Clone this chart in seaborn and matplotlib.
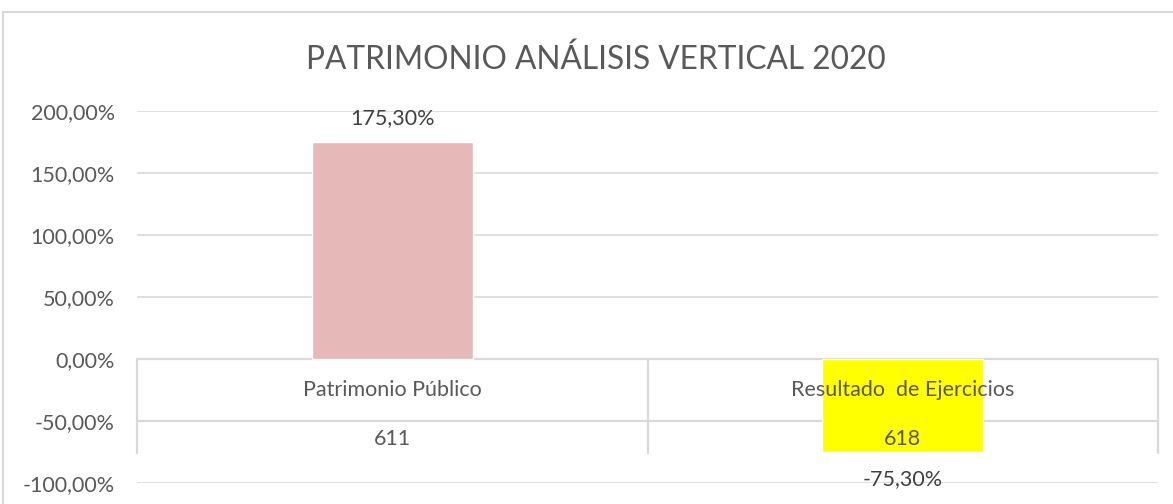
import matplotlib
matplotlib.use("Agg")
import matplotlib.pyplot as plt
import seaborn as sns
import pandas as pd
from matplotlib.lines import Line2D

# Chart data
categorias = ["Patrimonio Público", "Resultado  de Ejercicios"]
codigos = ["611", "618"]
porcentajes = [175.30, -75.30]
colores = ["#E6B8B7", "#FFFF00"]
ticks_y = [-100, -50, 0, 50, 100, 150, 200]

sns.set_theme(style="white")
plt.rcParams["font.family"] = ["Lato", "DejaVu Sans"]

TXT = "#595959"
GRID = "#D9D9D9"
FS = 15.5

fig = plt.figure(figsize=(11.73, 5.04), dpi=100)
ax = fig.add_axes([137 / 1173, 1 - 483 / 504, (1158 - 137) / 1173, (483 - 111) / 504])

df = pd.DataFrame({"cat": categorias, "val": porcentajes})
sns.barplot(data=df, x="cat", y="val", hue="cat", palette=colores,
            width=0.315, saturation=1, legend=False, ax=ax, zorder=3)

ax.set_xlim(-0.5, len(categorias) - 0.5)
ax.set_ylim(ticks_y[0], ticks_y[-1])
ax.set_yticks(ticks_y)
ax.set_yticklabels([f"{t:,.2f}%".replace(".", ",") for t in ticks_y],
                   color=TXT, fontsize=FS)
ax.tick_params(axis="y", length=0, pad=16)
ax.set_xticks([])
ax.set_xlabel("")
ax.set_ylabel("")
for s in ax.spines.values():
    s.set_visible(False)

# horizontal gridlines
for t in ticks_y:
    if t not in (0, -50):
        ax.axhline(t, color=GRID, lw=1.2, zorder=1)

# category table below the zero line
row_bottom = -50
table_bottom = -75.5
ax.axhline(0, color=GRID, lw=1.6, zorder=1)
ax.axhline(row_bottom, color=GRID, lw=1.6, zorder=1)
for xv in [-0.5 + i for i in range(len(categorias) + 1)]:
    ax.add_line(Line2D([xv, xv], [0, table_bottom], color=GRID, lw=1.6,
                       zorder=1, clip_on=False))
for i, (c, k) in enumerate(zip(categorias, codigos)):
    ax.text(i, row_bottom / 2, c, ha="center", va="center",
            color=TXT, fontsize=FS, zorder=5)
    ax.text(i, (row_bottom + table_bottom) / 2 - 1.5, k, ha="center",
            va="center", color=TXT, fontsize=FS, zorder=5)

# value labels
for cont in ax.containers:
    v = cont.datavalues[0]
    ax.bar_label(cont, labels=[f"{d:.2f}%".replace(".", ",")
                               for d in cont.datavalues],
                 padding=10 if v >= 0 else 12, color="#404040", fontsize=FS)

fig.text(596 / 1173, 1 - 60 / 504, "PATRIMONIO ANÁLISIS VERTICAL 2020",
         ha="center", va="center", color=TXT, fontsize=22.8)

# chart border
fig.add_artist(Line2D([3 / 1173, 3 / 1173], [0, 1 - 12 / 504],
                      transform=fig.transFigure, color=GRID, lw=1.5))
fig.add_artist(Line2D([3 / 1173, 1], [1 - 12 / 504, 1 - 12 / 504],
                      transform=fig.transFigure, color=GRID, lw=1.5))

fig.savefig("out.png", dpi=100, facecolor="white")
